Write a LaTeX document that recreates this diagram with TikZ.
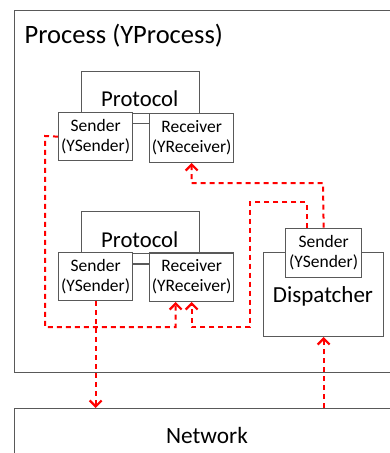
\documentclass[tikz,border=0pt]{standalone}
\usepackage{fontspec}
\setmainfont{Carlito}
\usetikzlibrary{arrows.meta}
\definecolor{boxgray}{RGB}{89,89,89}
\tikzset{
  box/.style={draw=boxgray, line width=1.3pt, fill=white, inner sep=0pt, anchor=north west},
  txt/.style={inner sep=0pt, align=center, text=black},
  msg/.style={draw=red, line width=2pt, dash pattern=on 5pt off 4pt,
    -{Straight Barb[length=6pt,width=12pt,line width=2.2pt]}},
}
\begin{document}
\begin{tikzpicture}[x=1pt,y=-1pt]
\useasboundingbox (0,0) rectangle (390,453);
% outer boxes
\node[box, minimum width=390pt, minimum height=362pt] (proc) at (13.5,10) {};
\node[txt, anchor=base west, font=\fontsize{26.5}{30}\selectfont] (ptitle) at (24.5,43.3) {Process (YProcess)};
\node[box, minimum width=390pt, minimum height=70pt] (net) at (13.5,408) {};
\node[txt, font=\fontsize{23.3}{28}\selectfont] (nettext) at (207,435) {Network};

% top protocol
\node[box, minimum width=118.3pt, minimum height=42pt] (p1) at (80.7,70.7) {};
\node[txt, font=\fontsize{22.7}{27}\selectfont] (p1t) at (139.8,99) {Protocol};
\draw[draw=boxgray, line width=1.3pt] (132,123.3) -- (149,123.3);
\node[box, minimum width=74pt, minimum height=48pt] (s1) at (58,112) {};
\node[txt, font=\fontsize{17.5}{20}\selectfont] (s1t) at (s1.center) {Sender\\(YSender)};
\node[box, minimum width=84pt, minimum height=49pt] (r1) at (149,112.7) {};
\node[txt, font=\fontsize{17.5}{20}\selectfont] (r1t) at (r1.center) {Receiver\\(YReceiver)};

% bottom protocol
\node[box, minimum width=118.3pt, minimum height=42pt] (p2) at (80.7,211) {};
\node[txt, font=\fontsize{22.7}{27}\selectfont] (p2t) at (139.8,239.5) {Protocol};
\draw[draw=boxgray, line width=1.3pt] (132,264) -- (149,264);
\node[box, minimum width=74pt, minimum height=48.3pt] (s2) at (58,251.7) {};
\node[txt, font=\fontsize{17.5}{20}\selectfont] (s2t) at (s2.center) {Sender\\(YSender)};
\node[box, minimum width=84pt, minimum height=48.5pt] (r2) at (149,252.2) {};
\node[txt, font=\fontsize{17.5}{20}\selectfont] (r2t) at (r2.center) {Receiver\\(YReceiver)};

% dispatcher
\node[box, minimum width=120pt, minimum height=84pt] (disp) at (263,251.7) {};
\node[txt, font=\fontsize{23}{28}\selectfont] (dispt) at (323,296.7) {Dispatcher};
\node[box, minimum width=76pt, minimum height=49pt] (ds) at (285,227.7) {};
\node[txt, font=\fontsize{17.5}{20}\selectfont] (dst) at (ds.center) {Sender\\(YSender)};

% messages
\coordinate (a1) at (45,136);
\coordinate (a2) at (45,327);
\draw[msg] (s1.west) -- (a1) -- (a2) -- ([xshift=-16pt]r2.south |- a2) -- ([xshift=-16pt]r2.south);
\coordinate (b1) at (250,202);
\coordinate (b2) at (250,327);
\draw[msg] ([xshift=-17pt]ds.north) -- ([xshift=-17pt]ds.north |- b1) -- (b1) -- (b2) -- (r2.south |- b2) -- (r2.south);
\coordinate (c1) at (323,183);
\draw[msg] (ds.north) -- (c1) -- (r1.south |- c1) -- (r1.south);
\draw[msg] (s2.south) -- (s2.south |- net.north);
\draw[msg] (disp.south |- net.north) -- (disp.south);
\end{tikzpicture}
\end{document}
